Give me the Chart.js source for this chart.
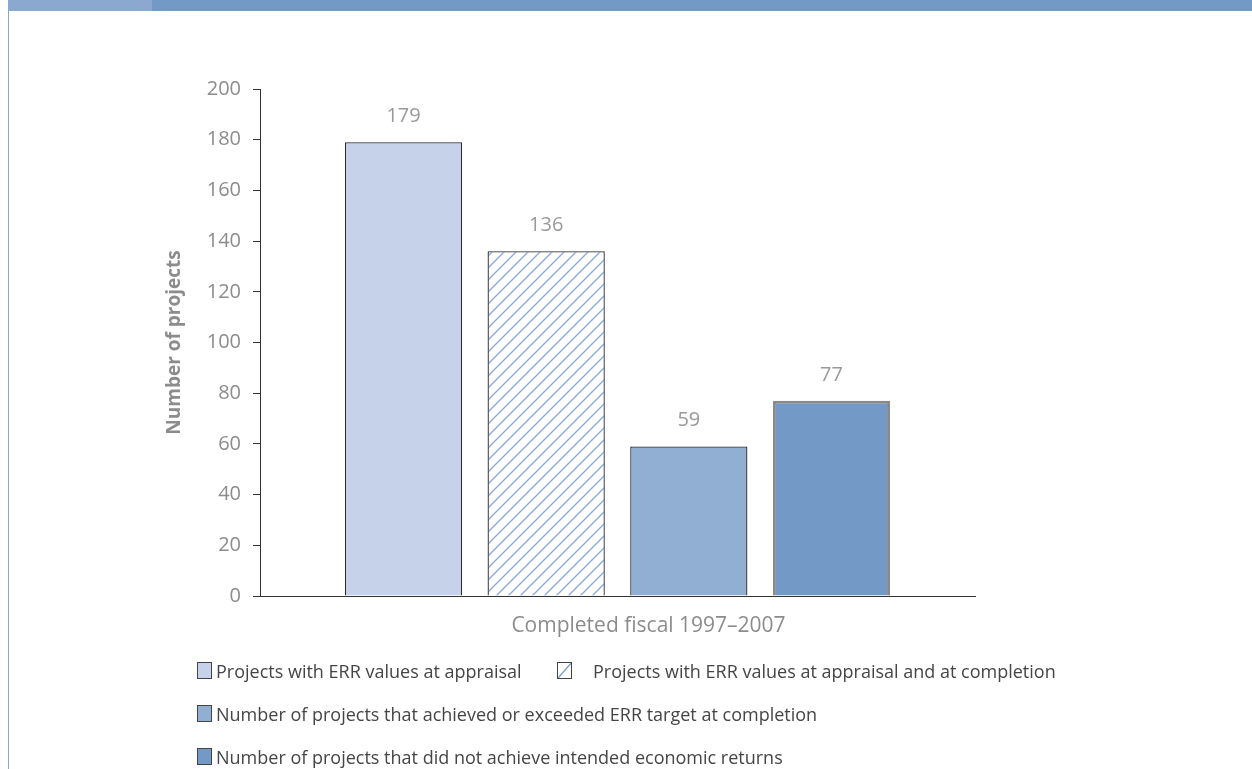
<!DOCTYPE html>
<html>
<head>
<meta charset="utf-8">
<script src="https://cdn.jsdelivr.net/npm/chart.js@4.4.1/dist/chart.umd.min.js"></script>
<style>
  html, body { margin: 0; padding: 0; background: #fff; }
  #wrap { position: relative; width: 1252px; height: 769px; overflow: hidden; background: #fff; }
  #hdrL { position: absolute; left: 8px; top: 0; width: 144px; height: 11px; background: #8aa8d0; }
  #hdrR { position: absolute; left: 152px; top: 0; width: 1100px; height: 11px; background: #7399c6; }
  #bord { position: absolute; left: 8px; top: 11px; width: 1px; height: 758px; background: #8aa8d0; }
  #c { position: absolute; left: 0; top: 0; }
  .lg { position: absolute; font-family: "Open Sans", sans-serif; font-size: 18px; color: #454545; white-space: nowrap; line-height: 20px; }
  .sw { position: absolute; width: 13px; height: 15px; border: 1px solid #444; box-sizing: content-box; }
</style>
</head>
<body>
<div id="wrap">
  <div id="hdrL"></div><div id="hdrR"></div><div id="bord"></div>
  <canvas id="c" width="1252" height="769"></canvas>
  <div id="legend"></div>
</div>
<script>
// ---- data ----
const categories = ["Completed fiscal 1997\u20132007"];
const seriesLabels = [
  "Projects with ERR values at appraisal",
  "Projects with ERR values at appraisal and at completion",
  "Number of projects that achieved or exceeded ERR target at completion",
  "Number of projects that did not achieve intended economic returns"
];
const appraisal = [179];
const appraisalAndCompletion = [136];
const achieved = [59];
const notAchieved = [77];
const yTicks = [0, 20, 40, 60, 80, 100, 120, 140, 160, 180, 200];

// ---- hatch pattern ----
function makeHatch() {
  const s = 12;
  const p = document.createElement('canvas');
  p.width = s; p.height = s;
  const g = p.getContext('2d');
  g.fillStyle = '#ffffff';
  g.fillRect(0, 0, s, s);
  g.strokeStyle = '#86a9d6';
  g.lineWidth = 1.3;
  g.beginPath();
  g.moveTo(0, s); g.lineTo(s, 0);
  g.moveTo(-2, 2); g.lineTo(2, -2);
  g.moveTo(s - 2, s + 2); g.lineTo(s + 2, s - 2);
  g.stroke();
  return document.getElementById('c').getContext('2d').createPattern(p, 'repeat');
}
const hatch = makeHatch();

const fills = ['#c5d2e9', hatch, '#91aed3', '#7399c6'];
const borders = ['#2a2a2a', '#2a2a2a', '#2a2a2a', '#8a8a8a'];
const borderWidths = [1.3, 1.3, 1.3, 3];
const values = [appraisal, appraisalAndCompletion, achieved, notAchieved];

const labelPlugin = {
  id: 'barLabels',
  afterDatasetsDraw(chart) {
    const ctx = chart.ctx;
    ctx.save();
    ctx.font = '20px "Open Sans", sans-serif';
    ctx.fillStyle = '#999999';
    ctx.textAlign = 'center';
    ctx.textBaseline = 'middle';
    chart.data.datasets.forEach((ds, i) => {
      const meta = chart.getDatasetMeta(i);
      meta.data.forEach((bar, j) => {
        ctx.fillText(String(ds.data[j]), bar.x, bar.y - 26);
      });
    });
    // x-axis title (offset to the right of centre as in the original)
    const ca = chart.chartArea;
    ctx.font = '21px "Open Sans", sans-serif';
    ctx.fillStyle = '#8c8c8c';
    ctx.fillText(chart.data.labels[0], (ca.left + ca.right) / 2 + 31, ca.bottom + 30);
    ctx.restore();
  }
};

new Chart(document.getElementById('c'), {
  type: 'bar',
  data: {
    labels: categories,
    datasets: seriesLabels.map((lab, i) => ({
      label: lab,
      data: values[i],
      backgroundColor: fills[i],
      borderColor: borders[i],
      borderWidth: borderWidths[i],
      categoryPercentage: 0.798,
      barPercentage: 0.822
    }))
  },
  options: {
    responsive: false,
    animation: false,
    events: [],
    layout: { padding: { left: 160, right: 277, top: 89, bottom: 127 } },
    plugins: { legend: { display: false }, tooltip: { enabled: false }, title: { display: false } },
    scales: {
      x: {
        grid: { display: false },
        border: { display: true, color: '#333333', width: 1 },
        ticks: { display: false },
        afterFit(s) { s.height = 46; }
      },
      y: {
        min: 0, max: 200,
        afterBuildTicks(s) { s.ticks = yTicks.map(v => ({ value: v })); },
        grid: { display: true, drawOnChartArea: false, drawTicks: true, tickLength: 7, color: '#333333', lineWidth: 1 },
        border: { display: true, color: '#333333', width: 1 },
        ticks: {
          color: '#8c8c8c',
          padding: 12,
          font: { family: '"Open Sans", sans-serif', size: 20 }
        },
        title: {
          display: true,
          text: 'Number of projects',
          color: '#8c8c8c',
          font: { family: '"Open Sans", sans-serif', size: 19, weight: 'bold' },
          padding: { top: 3, bottom: 4 }
        },
        afterFit(s) { s.width = 100; }
      }
    }
  },
  plugins: [labelPlugin]
});

// ---- legend (HTML text) ----
const legendPos = [
  { sx: 197, tx: 216, y: 662 },
  { sx: 557, tx: 593, y: 662 },
  { sx: 197, tx: 216, y: 705 },
  { sx: 197, tx: 216, y: 748 }
];
const lgEl = document.getElementById('legend');
const swFills = ['#c5d2e9', null, '#91aed3', '#7399c6'];
seriesLabels.forEach((lab, i) => {
  const p = legendPos[i];
  const sw = document.createElement('div');
  sw.className = 'sw';
  sw.style.left = p.sx + 'px';
  sw.style.top = p.y + 'px';
  if (swFills[i]) sw.style.background = swFills[i];
  else sw.style.background = 'linear-gradient(to bottom right, #fff 45%, #86a9d6 48%, #86a9d6 53%, #fff 56%)';
  lgEl.appendChild(sw);
  const t = document.createElement('div');
  t.className = 'lg';
  t.style.left = p.tx + 'px';
  t.style.top = (p.y - 1) + 'px';
  t.textContent = lab;
  lgEl.appendChild(t);
});
</script>
</body>
</html>
